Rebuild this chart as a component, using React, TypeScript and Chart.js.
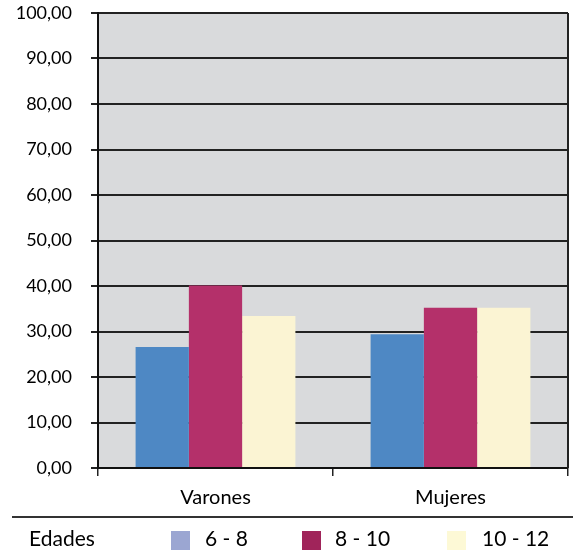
import React, { useEffect, useRef } from 'react';
import { Chart, registerables } from 'chart.js';

Chart.register(...registerables);

const categories = ['Varones', 'Mujeres'];
const seriesLabels = ['6 - 8', '8 - 10', '10 - 12'];
const age6to8 = [26.6, 29.4];
const age8to10 = [40.1, 35.2];
const age10to12 = [33.4, 35.2];
const yMin = 0;
const yMax = 100;
const yStep = 10;
const legendTitle = 'Edades';

const barColors = ['#4e88c4', '#b4306a', '#fbf4d3'];
const legendColors = ['#9ba6d2', '#a0245a', '#fdf9d6'];

const FONT = 'Lato, "Open Sans", sans-serif';

export default function App() {
  const ref = useRef<HTMLCanvasElement>(null);

  useEffect(() => {
    if (!ref.current) return;
    const seriesValues = [age6to8, age8to10, age10to12];

    const bgPlugin = {
      id: 'plotBg',
      beforeDraw(chart: any) {
        const { ctx, chartArea } = chart;
        ctx.save();
        ctx.fillStyle = '#d9dadc';
        ctx.fillRect(chartArea.left, chartArea.top, chartArea.right - chartArea.left, chartArea.bottom - chartArea.top);
        ctx.restore();
      },
      afterDraw(chart: any) {
        const { ctx, chartArea } = chart;
        ctx.save();
        ctx.strokeStyle = '#222';
        ctx.lineWidth = 2;
        ctx.beginPath();
        ctx.moveTo(chartArea.right, chartArea.top);
        ctx.lineTo(chartArea.right, chartArea.bottom);
        ctx.stroke();
        ctx.strokeStyle = '#333';
        ctx.lineWidth = 2;
        ctx.beginPath();
        ctx.moveTo(12, 517);
        ctx.lineTo(573, 517);
        ctx.stroke();
        ctx.font = '21px ' + FONT;
        ctx.fillStyle = '#000';
        ctx.textBaseline = 'alphabetic';
        ctx.textAlign = 'left';
        ctx.fillText(legendTitle, 29, 546);
        const swatchX = [171, 302, 447];
        const textX = [205, 335, 482];
        seriesLabels.forEach((lbl, i) => {
          ctx.fillStyle = legendColors[i];
          ctx.fillRect(swatchX[i], 531, 19, 19);
          ctx.fillStyle = '#000';
          ctx.fillText(lbl, textX[i], 546);
        });
        ctx.restore();
      },
    };

    const chart = new Chart(ref.current, {
      type: 'bar',
      data: {
        labels: categories,
        datasets: seriesLabels.map((lbl, i) => ({
          label: lbl,
          data: seriesValues[i],
          backgroundColor: barColors[i],
          borderWidth: 0,
          categoryPercentage: 0.68,
          barPercentage: 1,
        })),
      },
      options: {
        animation: false,
        responsive: false,
        devicePixelRatio: 1,
        layout: { padding: { top: 13, right: 5, bottom: 48, left: 0 } },
        plugins: {
          legend: { display: false },
          tooltip: { enabled: false },
        },
        scales: {
          x: {
            afterFit(scale: any) {
              scale.height = 40;
              scale.paddingLeft = 0;
              scale.paddingRight = 0;
            },
            grid: {
              offset: true,
              drawOnChartArea: false,
              tickLength: 8,
              color: '#222',
              lineWidth: 1.5,
            },
            border: { display: true, color: '#111', width: 2 },
            ticks: {
              color: '#000',
              padding: 10,
              font: { family: FONT, size: 20 },
            },
          },
          y: {
            min: yMin,
            max: yMax,
            afterFit(scale: any) {
              scale.width = 98;
              scale.paddingTop = 0;
              scale.paddingBottom = 0;
            },
            grid: {
              color: '#222',
              lineWidth: 2,
              tickLength: 7,
            },
            border: { display: true, color: '#111', width: 2 },
            ticks: {
              stepSize: yStep,
              color: '#000',
              padding: 19,
              font: { family: FONT, size: 18 },
              callback: (v: any) => Number(v).toFixed(2).replace('.', ','),
            },
          },
        },
      },
      plugins: [bgPlugin],
    });
    return () => chart.destroy();
  }, []);

  return (
    <div style={{ position: 'absolute', left: 0, top: 0, width: 573, height: 556, background: '#fff' }}>
      <canvas ref={ref} width={573} height={556} style={{ display: 'block', width: 573, height: 556 }} />
    </div>
  );
}
